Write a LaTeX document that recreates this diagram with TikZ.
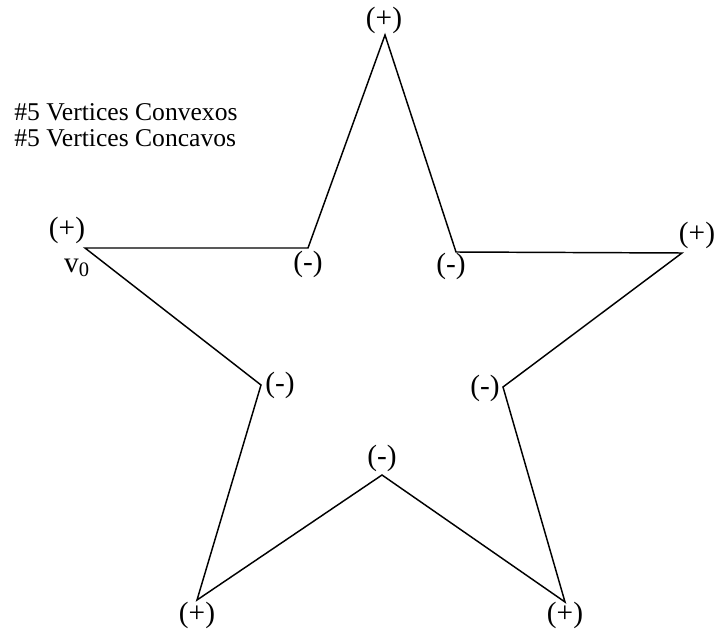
\documentclass[tikz,border=0pt]{standalone}
\usepackage{fontspec}
\setmainfont{Liberation Serif}
\begin{document}
\begin{tikzpicture}[x=0.75pt,y=-0.75pt,
  edge/.style={line width=1.1pt, line join=miter},
  lbl/.style={font=\fontsize{22}{25}\selectfont, inner sep=0pt},
  note/.style={font=\fontsize{19.2}{22}\selectfont, inner sep=0pt, anchor=base west}]
\useasboundingbox (0,0) rectangle (720,634);
\coordinate (p1) at (385,35);
\coordinate (q1) at (456,252);
\coordinate (p2) at (682,253);
\coordinate (q2) at (503,387);
\coordinate (p3) at (565,602);
\coordinate (q3) at (382,475);
\coordinate (p4) at (197,600);
\coordinate (q4) at (261,385);
\coordinate (p5) at (85,248);
\coordinate (q5) at (308,248);
\draw[edge] (p1) -- (q1) -- (p2) -- (q2) -- (p3) -- (q3) -- (p4) -- (q4) -- (p5) -- (q5) -- cycle;
\node[lbl] (lp1) at (384,20) {(+)};
\node[lbl] (lq1) at (451,266) {(-)};
\node[lbl] (lp2) at (697,235) {(+)};
\node[lbl] (lq2) at (485,388) {(-)};
\node[lbl] (lp3) at (565,615) {(+)};
\node[lbl] (lq3) at (382,458) {(-)};
\node[lbl] (lp4) at (197,615) {(+)};
\node[lbl] (lq4) at (280,385) {(-)};
\node[lbl] (lp5) at (67,230) {(+)};
\node[lbl] (v0) at (77,268) {v\textsubscript{0}};
\node[lbl] (lq5) at (308,264) {(-)};
\node[note] (t1) at (14,121) {\#5 Vertices Convexos};
\node[note] (t2) at (14,147) {\#5 Vertices Concavos};
\end{tikzpicture}
\end{document}
